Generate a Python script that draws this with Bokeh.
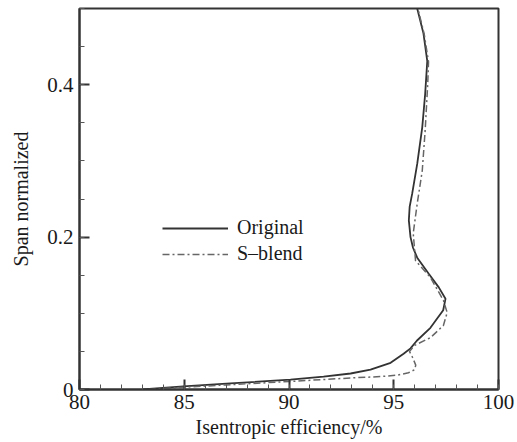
from bokeh.plotting import figure
from bokeh.models import Range1d, Legend, LegendItem, FixedTicker
from bokeh.embed import file_html
from bokeh.resources import INLINE

# Original blade
orig_eff = [83.0, 84.96, 87.2, 90.07, 91.65, 92.94, 93.89, 94.85, 95.47, 95.8, 96.1,
            96.75, 97.36, 97.47, 97.15, 96.67, 96.12, 95.92, 95.8, 95.72, 95.76, 95.88,
            96.12, 96.36, 96.5, 96.6, 96.42, 96.12]
orig_span = [0.0, 0.004, 0.008, 0.013, 0.017, 0.021, 0.026, 0.035, 0.047, 0.054, 0.064,
             0.081, 0.104, 0.119, 0.134, 0.152, 0.173, 0.186, 0.2, 0.222, 0.24, 0.257,
             0.296, 0.344, 0.388, 0.431, 0.467, 0.5]

# S-blend blade
sb_eff = [83.3, 85.0, 87.0, 90.0, 91.6, 93.2, 94.4, 95.2, 95.7, 96.0, 96.05, 95.9, 95.75,
          96.0, 96.75, 97.37, 97.55, 97.37, 96.75, 96.04, 95.93, 96.12, 96.36, 96.5,
          96.62, 96.66, 96.45, 96.15]
sb_span = [0.0, 0.003, 0.006, 0.0105, 0.013, 0.0155, 0.017, 0.019, 0.022, 0.026, 0.032,
           0.042, 0.05, 0.058, 0.068, 0.084, 0.101, 0.117, 0.147, 0.169, 0.205, 0.244,
           0.287, 0.34, 0.40, 0.43, 0.467, 0.5]

x_ticks = [80, 85, 90, 95, 100]
y_ticks = [0, 0.2, 0.4]
y_tick_labels = {0: "0", 0.2: "0.2", 0.4: "0.4"}

FONT = "Liberation Serif"
TEXT = "#1a1a1a"

p = figure(width=515, height=440, output_backend="svg", toolbar_location=None,
           x_range=Range1d(80, 100), y_range=Range1d(0, 0.5),
           min_border_left=79, min_border_top=8, min_border_right=17, min_border_bottom=51)

p.grid.visible = False
p.outline_line_color = "#333333"
p.outline_line_width = 2
p.background_fill_color = "white"
p.border_fill_color = "white"

for ax in (p.xaxis[0], p.yaxis[0]):
    ax.axis_line_color = "#333333"
    ax.axis_line_width = 2
    ax.major_tick_in = 10
    ax.major_tick_out = 0
    ax.minor_tick_in = 5
    ax.minor_tick_out = 0
    ax.major_tick_line_color = "#333333"
    ax.minor_tick_line_color = "#555555"
    ax.major_tick_line_width = 2
    ax.major_label_text_font = FONT
    ax.major_label_text_font_size = "21px"
    ax.major_label_text_color = TEXT
    ax.axis_label_text_font = FONT
    ax.axis_label_text_font_size = "20px"
    ax.axis_label_text_font_style = "normal"
    ax.axis_label_text_color = TEXT

p.xaxis.ticker = FixedTicker(ticks=x_ticks, minor_ticks=list(range(80, 101)))
p.yaxis.ticker = FixedTicker(ticks=y_ticks, minor_ticks=[i * 0.05 for i in range(11)])
p.yaxis.major_label_overrides = y_tick_labels
p.xaxis.axis_label = "Isentropic efficiency/%"
p.yaxis.axis_label = "Span normalized"
p.xaxis.major_label_standoff = 5
p.yaxis.major_label_standoff = 6
p.xaxis.axis_label_standoff = 4
p.yaxis.axis_label_standoff = 12

r1 = p.line(orig_eff, orig_span, line_color="#333333", line_width=1.8)
r2 = p.line(sb_eff, sb_span, line_color="#666666", line_width=1.5, line_dash="7 3 2 3")

legend = Legend(items=[LegendItem(label="Original", renderers=[r1]),
                       LegendItem(label="S\u2013blend", renderers=[r2])],
                location=(83, 124), orientation="vertical",
                background_fill_alpha=0, border_line_alpha=0,
                padding=0, margin=0, spacing=3,
                glyph_width=66, glyph_height=20, label_height=20,
                label_standoff=9,
                label_text_font=FONT, label_text_font_size="20px",
                label_text_color=TEXT)
p.add_layout(legend, "center")

open("out.html", "w").write(file_html(p, INLINE))
